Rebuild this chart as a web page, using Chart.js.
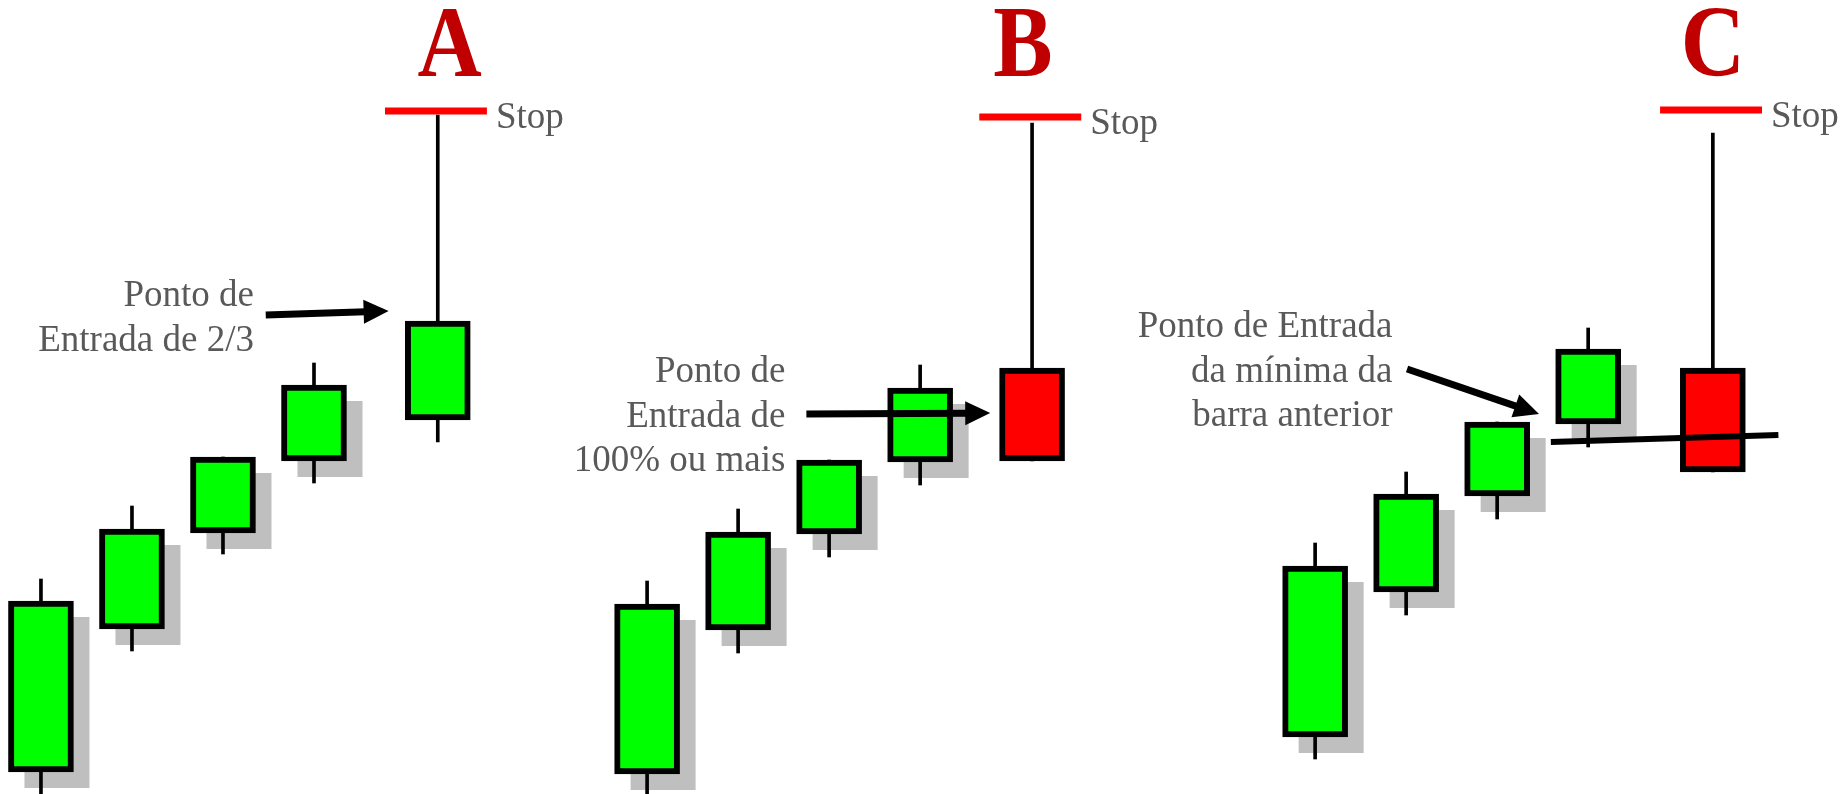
<!DOCTYPE html>
<html>
<head>
<meta charset="utf-8">
<script src="https://cdn.jsdelivr.net/npm/chart.js@4.4.0/dist/chart.umd.min.js"></script>
<style>
  html, body { margin: 0; padding: 0; background: #fff; overflow: hidden; }
  #wrap { width: 1843px; height: 794px; }
</style>
</head>
<body>
<div id="wrap"><canvas id="chart" width="1843" height="794"></canvas></div>
<script>
// panel titles
const panelNames = ['A', 'B', 'C'];

// candles, panel A
const xA     = [0, 1, 2, 3, 4.36];
const openA  = [2.2, 16.5, 26.1, 33.3, 37.4];
const closeA = [19.3, 26.5, 33.7, 40.9, 47.3];
const highA  = [21.5, 28.8, 33.7, 43.1, 67.9];
const lowA   = [-1, 14.3, 24.0, 31.1, 35.2];

// candles, panel B
const xB     = [6.66, 7.66, 8.66, 9.66, 10.89];
const openB  = [2.0, 16.4, 26.0, 33.2, 42.6];
const closeB = [19.0, 26.2, 33.4, 40.6, 33.3];
const highB  = [21.3, 28.5, 33.4, 42.9, 67.1];
const lowB   = [-1, 14.1, 23.7, 30.9, 33.3];

// candles, panel C
const xC     = [14, 15, 16, 17, 18.37];
const openC  = [5.7, 20.2, 29.8, 37.0, 42.6];
const closeC = [22.8, 30.0, 37.2, 44.5, 32.2];
const highC  = [25.1, 32.2, 37.2, 46.6, 66.1];
const lowC   = [3.5, 17.9, 27.5, 34.7, 32.2];

// stop level per panel
const stopLevels = [68.3, 67.7, 68.4];

// entry arrows [x0, y0, x1, y1] per panel
const arrowA = [2.47, 47.9, 3.82, 48.3];
const arrowB = [8.41, 38.0, 10.43, 38.1];
const arrowC = [15.01, 42.5, 16.46, 38.0];

// "minimum of previous bar" line in panel C
const minLineX = [16.59, 19.09];
const minLineY = [35.2, 35.9];

// notes
const noteA = ['Ponto de', 'Entrada de 2/3'];
const noteB = ['Ponto de', 'Entrada de', '100% ou mais'];
const noteC = ['Ponto de Entrada', 'da mínima da', 'barra anterior'];
const stopText = 'Stop';

// ---- build ----
const panels = [
  { x: xA, open: openA, close: closeA, high: highA, low: lowA, arrow: arrowA, note: noteA },
  { x: xB, open: openB, close: closeB, high: highB, low: lowB, arrow: arrowB, note: noteB },
  { x: xC, open: openC, close: closeC, high: highC, low: lowC, arrow: arrowC, note: noteC }
];
// where notes and titles sit (layout, data units)
const noteAnchor = [[2.34, 48.8], [8.18, 41.2], [14.85, 45.7]];
const titleAnchor = [[4.49, 71.8], [10.79, 71.8], [18.37, 71.8]];

const wickData = [], bodyData = [], bodyColors = [], hasShadow = [];
panels.forEach(p => {
  p.x.forEach((x, i) => {
    wickData.push({ x, y: [p.low[i], p.high[i]] });
    bodyData.push({ x, y: [p.open[i], p.close[i]] });
    bodyColors.push(p.close[i] >= p.open[i] ? '#00ff00' : '#ff0000');
    hasShadow.push(i < p.x.length - 1);
  });
});

const stopSets = panels.map((p, k) => {
  const xl = p.x[p.x.length - 1];
  return {
    type: 'line', order: 1,
    data: [{ x: xl - 0.58, y: stopLevels[k] }, { x: xl + 0.54, y: stopLevels[k] }],
    borderColor: '#ff0000', borderWidth: 7, pointRadius: 0, borderCapStyle: 'butt'
  };
});

const datasets = [
  { type: 'bar', order: 3, data: wickData, backgroundColor: '#000', barThickness: 3, grouped: false, borderWidth: 0 },
  { type: 'bar', order: 2, data: bodyData, backgroundColor: bodyColors, borderColor: '#000',
    borderWidth: 6, borderSkipped: false, barThickness: 65, grouped: false },
  ...stopSets,
  { type: 'line', order: 1,
    data: minLineX.map((x, i) => ({ x, y: minLineY[i] })),
    borderColor: '#000', borderWidth: 6, pointRadius: 0 }
];
const BODY = 1;

function drawArrow(ctx, x0, y0, x1, y1) {
  const a = Math.atan2(y1 - y0, x1 - x0);
  const c = Math.cos(a), s = Math.sin(a);
  const L = 25, W = 12;
  const bx = x1 - L * c, by = y1 - L * s;
  ctx.save();
  ctx.strokeStyle = '#000';
  ctx.fillStyle = '#000';
  ctx.lineWidth = 7;
  ctx.beginPath();
  ctx.moveTo(x0, y0);
  ctx.lineTo(bx + 2 * c, by + 2 * s);
  ctx.stroke();
  ctx.beginPath();
  ctx.moveTo(x1, y1);
  ctx.lineTo(bx - W * s, by + W * c);
  ctx.lineTo(bx + W * s, by - W * c);
  ctx.closePath();
  ctx.fill();
  ctx.restore();
}

const decor = {
  id: 'decor',
  beforeDatasetsDraw(chart) {
    const ctx = chart.ctx;
    const meta = chart.getDatasetMeta(BODY);
    ctx.save();
    ctx.fillStyle = '#bfbfbf';
    meta.data.forEach((el, i) => {
      if (!hasShadow[i]) return;
      const { x, y, base, width } = el.getProps(['x', 'y', 'base', 'width'], true);
      ctx.fillRect(x - width / 2 + 16, Math.min(y, base) + 16, width, Math.abs(base - y));
    });
    ctx.restore();
  },
  afterDatasetsDraw(chart) {
    const ctx = chart.ctx;
    const xs = chart.scales.x, ys = chart.scales.y;
    panels.forEach((p, k) => {
      const a = p.arrow;
      drawArrow(ctx, xs.getPixelForValue(a[0]), ys.getPixelForValue(a[1]),
                     xs.getPixelForValue(a[2]), ys.getPixelForValue(a[3]));

      ctx.save();
      ctx.fillStyle = '#595959';
      ctx.font = '37px "Liberation Serif", "Times New Roman", serif';
      ctx.textAlign = 'right';
      ctx.textBaseline = 'alphabetic';
      const nx = xs.getPixelForValue(noteAnchor[k][0]);
      const ny = ys.getPixelForValue(noteAnchor[k][1]);
      p.note.forEach((line, i) => ctx.fillText(line, nx, ny + i * 44.5));

      const xl = p.x[p.x.length - 1];
      ctx.textAlign = 'left';
      ctx.fillText(stopText, xs.getPixelForValue(xl + 0.54) + 9, ys.getPixelForValue(stopLevels[k]) + 17);

      ctx.fillStyle = '#c00000';
      ctx.textAlign = 'center';
      ctx.translate(xs.getPixelForValue(titleAnchor[k][0]), ys.getPixelForValue(titleAnchor[k][1]));
      ctx.scale(1, 1.13);
      ctx.font = 'bold 89px "Liberation Serif", "Times New Roman", serif';
      ctx.fillText(panelNames[k], 0, 0);
      ctx.restore();
    });
  }
};

new Chart(document.getElementById('chart'), {
  type: 'bar',
  data: { datasets },
  options: {
    responsive: false,
    devicePixelRatio: 1,
    animation: false,
    layout: { padding: 0 },
    plugins: { legend: { display: false }, tooltip: { enabled: false } },
    scales: {
      x: { type: 'linear', min: -0.45, max: 19.8, offset: false, display: false },
      y: { type: 'linear', min: 0, max: 79.4, display: false }
    }
  },
  plugins: [decor]
});
</script>
</body>
</html>
